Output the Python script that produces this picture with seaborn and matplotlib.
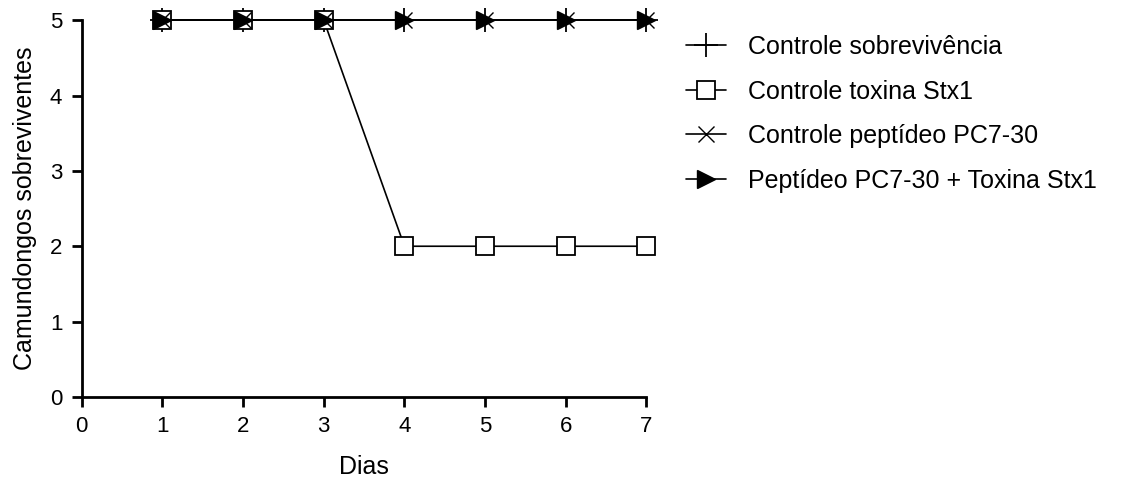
import matplotlib
matplotlib.use("Agg")
import matplotlib.pyplot as plt
import seaborn as sns
import pandas as pd

dias = [1, 2, 3, 4, 5, 6, 7]
controle_sobrevivencia = [5, 5, 5, 5, 5, 5, 5]
controle_toxina = [5, 5, 5, 2, 2, 2, 2]
controle_peptideo = [5, 5, 5, 5, 5, 5, 5]
peptideo_toxina = [5, 5, 5, 5, 5, 5, 5]
nomes = ["Controle sobrevivência", "Controle toxina Stx1",
         "Controle peptídeo PC7-30", "Peptídeo PC7-30 + Toxina Stx1"]

sns.set_theme(style="ticks")
plt.rcParams['font.family'] = ['Liberation Sans', 'DejaVu Sans']
plt.rcParams.update({"text.color": "black", "axes.labelcolor": "black",
                     "xtick.color": "black", "ytick.color": "black"})

fig = plt.figure(figsize=(11.36, 4.8), dpi=100)
ax = fig.add_axes([0.072, 0.173, 0.497, 0.785])

series = [controle_sobrevivencia, controle_toxina, controle_peptideo, peptideo_toxina]
estilos = [
    dict(marker="+", markersize=17, mew=1.3, mfc="black"),
    dict(marker="s", markersize=13, mew=1.3, mfc="white"),
    dict(marker="x", markersize=11, mew=1.0, mfc="black"),
    dict(marker=">", markersize=13, mew=1.0, mfc="black"),
]
for vals, nome, st in zip(series, nomes, estilos):
    df = pd.DataFrame({"Dias": dias, "v": vals})
    sns.lineplot(data=df, x="Dias", y="v", ax=ax, color="black", lw=1.2,
                 mec="black", label=nome, clip_on=False, **st)

ax.set_xlim(0, 7)
ax.set_ylim(0, 5)
ax.set_xticks(range(0, 8))
ax.set_yticks(range(0, 6))
ax.set_xlabel("Dias", fontsize=18, labelpad=13)
ax.set_ylabel("Camundongos sobreviventes", fontsize=18, labelpad=9)
ax.tick_params(labelsize=16, width=2, length=7, pad=7, direction="out",
               color="black", labelcolor="black")
for s in ["left", "bottom"]:
    ax.spines[s].set_linewidth(2)
    ax.spines[s].set_color("black")
sns.despine(ax=ax)
leg = ax.legend(loc="upper left", bbox_to_anchor=(1.03, 1.02), frameon=False,
                fontsize=18, handlelength=1.6, labelspacing=0.82, handletextpad=0.9)
for t in leg.get_texts():
    t.set_color("black")
fig.savefig("out.png", dpi=100)
